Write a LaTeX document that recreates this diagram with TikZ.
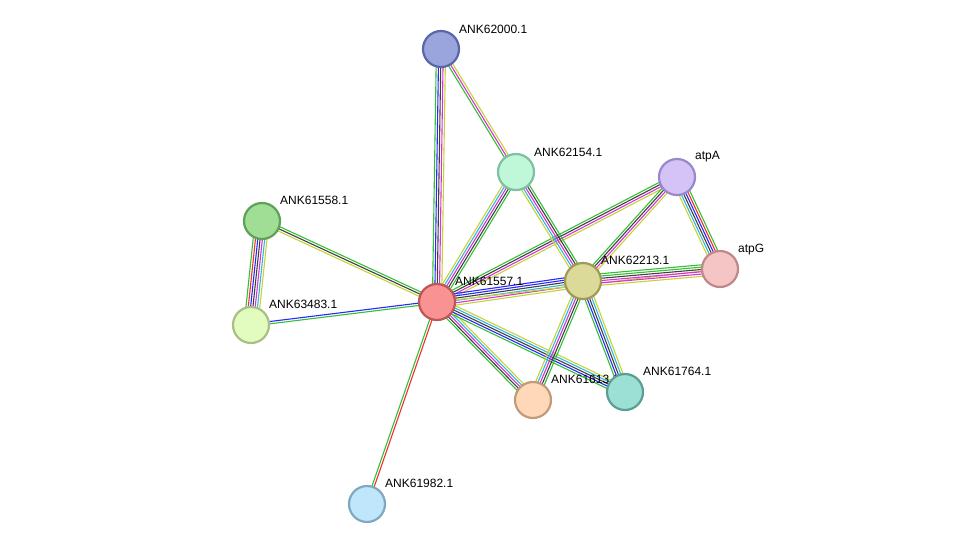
\documentclass[tikz,border=0pt]{standalone}
\usepackage{fontspec}
\setmainfont{Liberation Sans}
\usetikzlibrary{calc,backgrounds}
\definecolor{G}{HTML}{33C033}
\definecolor{B}{HTML}{2828FF}
\definecolor{K}{HTML}{404040}
\definecolor{M}{HTML}{D633D6}
\definecolor{C}{HTML}{33B5E0}
\definecolor{Y}{HTML}{C4D336}
\definecolor{R}{HTML}{F03030}
\tikzset{
 prot/.style={circle,minimum size=36pt,inner sep=0pt,line width=2.2pt},
 lab/.style={anchor=base west,font=\fontsize{12pt}{14pt}\selectfont,inner sep=0pt},
 strand/.style={line width=1.1pt}
}
\newcommand{\bund}[3]{%
 \foreach \c [count=\i] in {#3} {\xdef\nn{\i}}%
 \foreach \c [count=\i] in {#3} {%
  \pgfmathsetmacro{\o}{(\i-(\nn+1)/2)*2.3}%
  \draw[strand,\c] ($(#1)!\o pt!90:(#2)$) -- ($(#2)!\o pt!-90:(#1)$);}}
\begin{document}
\begin{tikzpicture}[x=1pt,y=-1pt]
\useasboundingbox (0,0) rectangle (975,550);
% labels
\node[lab] (l1) at (459,33) {ANK62000.1};
\node[lab] (l2) at (534,156) {ANK62154.1};
\node[lab] (l3) at (695,159) {atpA};
\node[lab] (l4) at (280,204) {ANK61558.1};
\node[lab] (l5) at (738,252) {atpG};
\node[lab] (l6) at (601,264) {ANK62213.1};
\node[lab] (l7) at (455,285) {ANK61557.1};
\node[lab] (l8) at (269,308) {ANK63483.1};
\node[lab] (l9) at (551,383) {ANK61613.1};
\node[lab] (l10) at (643,375) {ANK61764.1};
\node[lab] (l11) at (385,487) {ANK61982.1};
% nodes
\node[prot,fill={rgb,255:red,154;green,165;blue,222},draw={rgb,255:red,90;green,102;blue,168}] (n62000) at (441,49) {};
\node[prot,fill={rgb,255:red,191;green,247;blue,217},draw={rgb,255:red,127;green,192;blue,160}] (n62154) at (516,172) {};
\node[prot,fill={rgb,255:red,213;green,195;blue,247},draw={rgb,255:red,154;green,136;blue,204}] (atpA) at (677,177) {};
\node[prot,fill={rgb,255:red,159;green,222;blue,148},draw={rgb,255:red,95;green,160;blue,90}] (n61558) at (262,221) {};
\node[prot,fill={rgb,255:red,245;green,197;blue,198},draw={rgb,255:red,192;green,136;blue,136}] (atpG) at (720,269) {};
\node[prot,fill={rgb,255:red,220;green,218;blue,152},draw={rgb,255:red,160;green,154;blue,88}] (n62213) at (583,281) {};
\node[prot,fill={rgb,255:red,249;green,147;blue,147},draw={rgb,255:red,192;green,85;blue,85}] (n61557) at (437,302) {};
\node[prot,fill={rgb,255:red,226;green,252;blue,192},draw={rgb,255:red,168;green,192;blue,136}] (n63483) at (251,325) {};
\node[prot,fill={rgb,255:red,254;green,216;blue,184},draw={rgb,255:red,192;green,156;blue,120}] (n61613) at (533,400) {};
\node[prot,fill={rgb,255:red,156;green,223;blue,212},draw={rgb,255:red,90;green,158;blue,148}] (n61764) at (625,392) {};
\node[prot,fill={rgb,255:red,192;green,230;blue,251},draw={rgb,255:red,128;green,168;blue,192}] (n61982) at (367,504) {};
\begin{scope}[on background layer]
\bund{n62000}{n61557}{G,B,K,M,Y}
\bund{n62000}{n62154}{G,M,Y}
\bund{n61558}{n61557}{Y,K,G}
\bund{n61558}{n63483}{G,R,B,K,M,C,Y}
\bund{n63483}{n61557}{G,B}
\bund{n61557}{n61982}{G,R}
\bund{n61557}{n62154}{G,K,M,C,Y}
\bund{n61557}{atpA}{Y,M,K,G}
\bund{n61557}{n62213}{Y,M,C,K,B,B}
\bund{n61557}{atpG}{Y}
\bund{n61557}{n61613}{G,K,M,C,Y}
\bund{n61557}{n61764}{G,B,K,C,Y}
\bund{n62154}{n62213}{Y,C,M,K,G}
\bund{atpA}{n62213}{G,K,M,Y}
\bund{atpA}{atpG}{Y,C,K,B,R,G}
\bund{n62213}{atpG}{Y,M,M,K,G,G}
\bund{n62213}{n61613}{Y,C,M,K,G}
\bund{n62213}{n61764}{G,B,K,C,Y}
\end{scope}
\end{tikzpicture}
\end{document}
